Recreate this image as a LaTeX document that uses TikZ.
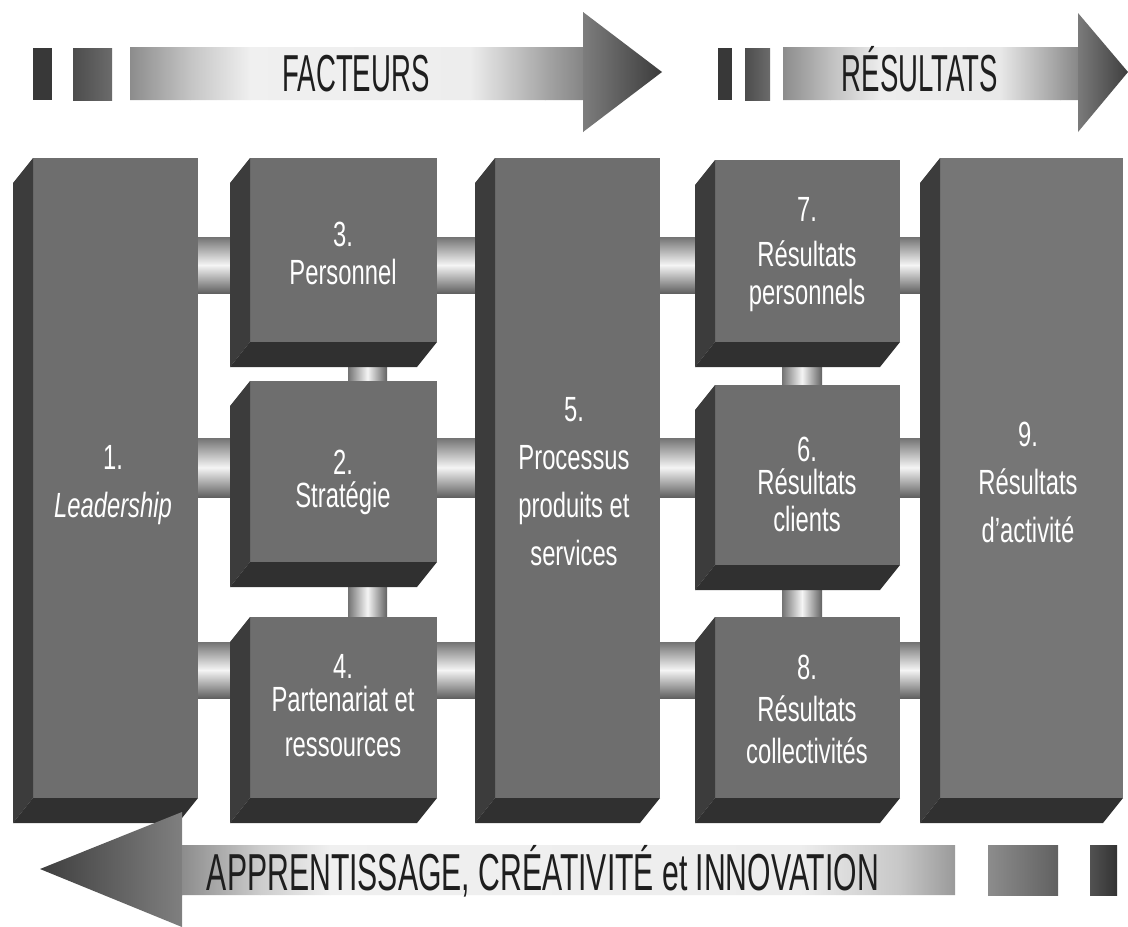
\documentclass[tikz,border=0pt]{standalone}
\usepackage{fontspec}
\usetikzlibrary{calc}
\newfontfamily\labelfont[FakeStretch=0.68]{Liberation Sans}
\newfontfamily\bannerfont[FakeStretch=0.53]{Liberation Sans}
\newfontfamily\footbannerfont[FakeStretch=0.58]{Liberation Sans}
\definecolor{facegray}{HTML}{6E6E6E}
\definecolor{facelight}{HTML}{767676}
\definecolor{sidegray}{HTML}{3C3C3C}
\definecolor{basegray}{HTML}{303030}
\definecolor{bannertext}{HTML}{1E1E1E}
\pgfdeclarelayer{bg}
\pgfsetlayers{bg,main}

% a box seen from the front: front face node plus its left side and base,
% extruded by (-20,25)
\newcommand\efqmbox[6]{% name, left, top, right, bottom, face colour
  \node[frontface, fill=#6, anchor=north west,
        minimum width={#4-#2}, minimum height={#5-#3}] (#1) at (#2,#3) {};
  \fill[sidegray] (#1.north west) -- ++(-20,25)
        -- ($(#1.south west)+(-20,25)$) -- (#1.south west) -- cycle;
  \fill[basegray] (#1.south west) -- ($(#1.south west)+(-20,25)$)
        -- ($(#1.south east)+(-20,25)$) -- (#1.south east) -- cycle;
}
% horizontal rod between two boxes, from y=#3 to y=#4
\newcommand\hrod[4]{%
  \shade[hcyl] (#1.east |- 0,#3) rectangle (#2.west |- 0,#4);
}
% vertical rod between two stacked boxes, from x=#3 to x=#4
\newcommand\vrod[4]{%
  \shade[vcyl] (#1.south -| #3,0) rectangle (#2.north -| #4,0);
}

\begin{document}
\begin{tikzpicture}[x=1pt,y=-1pt,
  frontface/.style={inner sep=0pt, outer sep=0pt, draw=none},
  hcyl/.style={top color=black!55, bottom color=black!62, middle color=black!4},
  vcyl/.style={left color=black!55, right color=black!62, middle color=black!4},
  boxlabel/.style={white, align=center, inner sep=0pt, anchor=north},
  banner/.style={bannertext, inner sep=0pt, anchor=base,
                 font=\bannerfont\fontsize{52}{52}\selectfont}]
\useasboundingbox (0,0) rectangle (1128,927);
\begin{pgfonlayer}{bg}
  \fill[white] (0,0) rectangle (1128,927);
\end{pgfonlayer}

% ---------- top banner: FACTEURS ----------
\fill[black!78] (33,48) rectangle (52,100);
\shade[left color=black!70, right color=black!58] (73,48) rectangle (112,100);
\begin{scope}
  \clip (130,47) -- (583,47) -- (583,12) -- (662,72) -- (583,132)
        -- (583,100) -- (130,100) -- cycle;
  \shade[left color=black!45, right color=black!23] (130,10) rectangle (190.5,135);
  \shade[left color=black!23, right color=black!6]  (190,10) rectangle (250.5,135);
  \shade[left color=black!6,  right color=black!7]  (250,10) rectangle (470.5,135);
  \shade[left color=black!7,  right color=black!35] (470,10) rectangle (545.5,135);
  \shade[left color=black!35, right color=black!48] (545,10) rectangle (583.5,135);
  \shade[left color=black!51, right color=black!77] (583,10) rectangle (663,135);
\end{scope}
\node[banner] (facteurs) at (356,91) {FACTEURS};

% ---------- top banner: RÉSULTATS ----------
\fill[black!78] (718,48) rectangle (732,100);
\shade[left color=black!70, right color=black!58] (745,48) rectangle (770,100);
\begin{scope}
  \clip (783,47) -- (1078,47) -- (1078,13) -- (1128,72) -- (1078,132)
        -- (1078,100) -- (783,100) -- cycle;
  \shade[left color=black!45, right color=black!25] (783,10) rectangle (830.5,135);
  \shade[left color=black!25, right color=black!7]  (830,10) rectangle (880.5,135);
  \shade[left color=black!7,  right color=black!9]  (880,10) rectangle (1000.5,135);
  \shade[left color=black!9,  right color=black!38] (1000,10) rectangle (1060.5,135);
  \shade[left color=black!38, right color=black!47] (1060,10) rectangle (1078.5,135);
  \shade[left color=black!52, right color=black!76] (1078,10) rectangle (1129,135);
\end{scope}
\node[banner] (resultats) at (920,91) {RÉSULTATS};

% ---------- the nine boxes ----------
\efqmbox{b1}{33}{158}{198}{798}{facegray}
\efqmbox{b3}{250}{158}{437}{342}{facegray}
\efqmbox{b2}{250}{381}{437}{562}{facegray}
\efqmbox{b4}{250}{617}{437}{798}{facegray}
\efqmbox{b5}{495}{158}{660}{798}{facegray}
\efqmbox{b7}{715}{160}{900}{342}{facegray}
\efqmbox{b6}{715}{385}{900}{565}{facegray}
\efqmbox{b8}{715}{617}{900}{798}{facegray}
\efqmbox{b9}{940}{158}{1123}{798}{facelight}

% ---------- rods joining the boxes ----------
\begin{pgfonlayer}{bg}
  \hrod{b1}{b3}{237}{293}
  \hrod{b1}{b2}{438}{497}
  \hrod{b1}{b4}{642}{698}
  \hrod{b3}{b5}{237}{293}
  \hrod{b2}{b5}{438}{497}
  \hrod{b4}{b5}{642}{698}
  \hrod{b5}{b7}{237}{293}
  \hrod{b5}{b6}{438}{497}
  \hrod{b5}{b8}{642}{698}
  \hrod{b7}{b9}{237}{293}
  \hrod{b6}{b9}{438}{497}
  \hrod{b8}{b9}{642}{698}
  \vrod{b3}{b2}{348}{387}
  \vrod{b2}{b4}{348}{387}
  \vrod{b7}{b6}{782}{822}
  \vrod{b6}{b8}{782}{822}
\end{pgfonlayer}

% ---------- box labels ----------
\node[boxlabel, font=\labelfont\fontsize{35}{48}\selectfont] (t1) at (113,445)
  {1.\\\textit{Leadership}};
\node[boxlabel, font=\labelfont\fontsize{35}{38}\selectfont] (t3) at (343,222)
  {3.\\Personnel};
\node[boxlabel, font=\labelfont\fontsize{35}{33}\selectfont] (t2) at (343,450)
  {2.\\Stratégie};
\node[boxlabel, font=\labelfont\fontsize{35}{33}\selectfont] (t4) at (343,654)
  {4.\\Partenariat et\\[12pt]ressources};
\node[boxlabel, font=\labelfont\fontsize{35}{48}\selectfont] (t5) at (574,397)
  {5.\\Processus\\produits et\\services};
\node[boxlabel, font=\labelfont\fontsize{35}{45}\selectfont] (t7) at (807,197)
  {7.\\Résultats\\[-7pt]personnels};
\node[boxlabel, font=\labelfont\fontsize{35}{33}\selectfont] (t6) at (807,437)
  {6.\\Résultats\\[4pt]clients};
\node[boxlabel, font=\labelfont\fontsize{35}{42}\selectfont] (t8) at (807,655)
  {8.\\Résultats\\collectivités};
\node[boxlabel, font=\labelfont\fontsize{35}{48}\selectfont] (t9) at (1028,422)
  {9.\\Résultats\\d’activité};

% ---------- bottom banner ----------
\begin{scope}
  \clip (955,845) -- (182,845) -- (182,812) -- (40,869) -- (182,927)
        -- (182,895) -- (955,895) -- cycle;
  \shade[left color=black!76, right color=black!50] (38,808) rectangle (182.5,930);
  \shade[left color=black!45, right color=black!20] (182,808) rectangle (260.5,930);
  \shade[left color=black!20, right color=black!6]  (260,808) rectangle (330.5,930);
  \shade[left color=black!6,  right color=black!7]  (330,808) rectangle (800.5,930);
  \shade[left color=black!7,  right color=black!22] (800,808) rectangle (900.5,930);
  \shade[left color=black!22, right color=black!40] (900,808) rectangle (956,930);
\end{scope}
\shade[left color=black!45, right color=black!62] (988,845) rectangle (1058,895);
\shade[left color=black!68, right color=black!80] (1090,845) rectangle (1117,895);
\node[banner, font=\footbannerfont\fontsize{52}{52}\selectfont] (apprentissage)
  at (543,890) {APPRENTISSAGE, CRÉATIVITÉ et INNOVATION};
\end{tikzpicture}
\end{document}
